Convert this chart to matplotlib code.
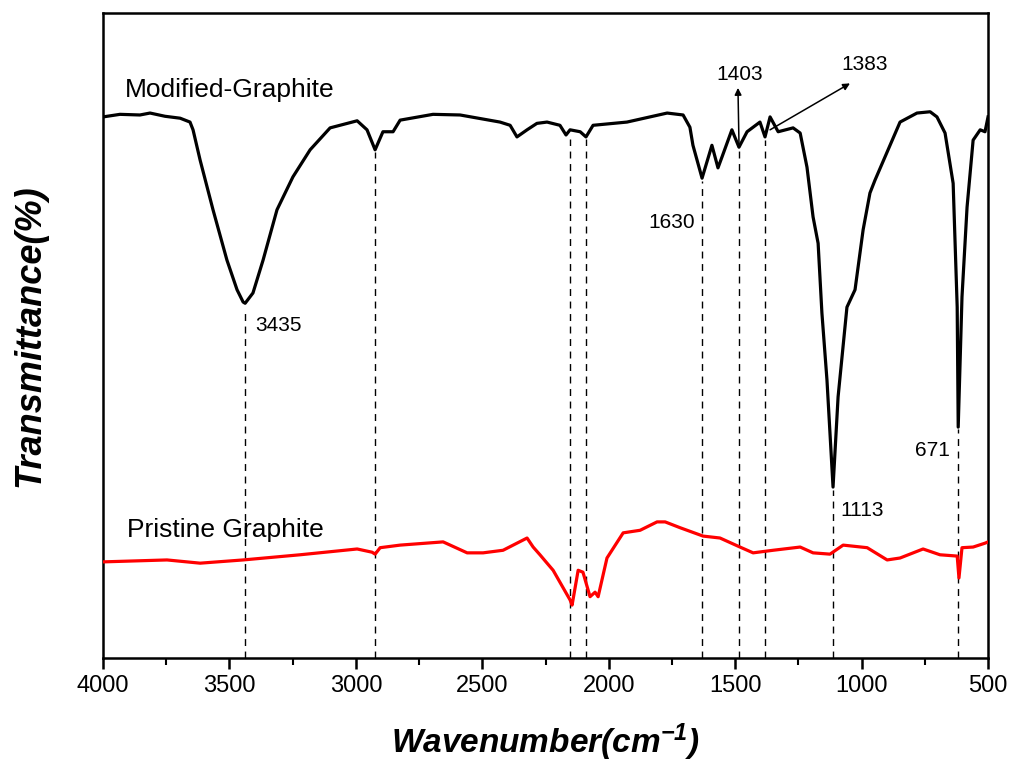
import matplotlib
matplotlib.use("Agg")
import matplotlib.pyplot as plt
from matplotlib.ticker import MultipleLocator

plt.rcParams["font.family"] = ["Liberation Sans", "DejaVu Sans"]
plt.rcParams["mathtext.fontset"] = "custom"
plt.rcParams["mathtext.it"] = "Liberation Sans:italic:bold"
plt.rcParams["mathtext.rm"] = "Liberation Sans:italic:bold"
plt.rcParams["mathtext.default"] = "it"

# ── Modified graphite spectrum (wavenumber, transmittance) ──
mod_wn = [4000, 3933, 3854, 3814, 3755, 3695, 3656, 3644, 3616, 3565, 3510,
          3470, 3446, 3438, 3407, 3367, 3312, 3249, 3181, 3102, 2995, 2956,
          2924, 2893, 2853, 2825, 2695, 2588, 2430, 2390, 2363, 2323, 2284,
          2244, 2193, 2169, 2153, 2113, 2090, 2062, 1928, 1769, 1706, 1679,
          1667, 1631, 1592, 1568, 1552, 1513, 1485, 1453, 1402, 1382, 1362,
          1330, 1271, 1243, 1216, 1192, 1172, 1157, 1137, 1113, 1093, 1058,
          1026, 994, 967, 947, 848, 781, 729, 702, 670, 638, 622, 618, 603,
          583, 559, 531, 512, 500]
mod_t = [83.9, 84.3, 84.2, 84.5, 84.0, 83.7, 83.1, 81.9, 77.2, 69.5, 61.7,
         57.1, 55.2, 55.0, 56.6, 61.7, 69.5, 74.6, 78.8, 82.2, 83.3, 81.9,
         78.8, 81.6, 81.6, 83.4, 84.3, 84.2, 83.1, 82.6, 80.8, 81.9, 82.9,
         83.1, 82.6, 81.1, 81.9, 81.6, 80.8, 82.6, 83.1, 84.5, 84.2, 82.3,
         79.5, 74.4, 79.5, 76.0, 77.7, 81.9, 79.2, 81.6, 83.1, 80.8, 83.9,
         81.6, 82.2, 81.4, 76.1, 68.4, 64.3, 53.5, 43.1, 26.5, 40.5, 54.4,
         57.1, 66.4, 72.1, 74.1, 83.1, 84.5, 84.7, 83.9, 81.4, 73.6, 54.4,
         35.8, 56.0, 69.9, 80.3, 81.9, 81.6, 83.9]

# ── Pristine graphite spectrum ──
pri_wn = [4000, 3747, 3616, 3446, 3221, 2995, 2936, 2924, 2904, 2825, 2655,
          2560, 2497, 2418, 2323, 2299, 2272, 2244, 2220, 2153, 2145, 2121,
          2102, 2074, 2054, 2042, 2007, 1943, 1876, 1809, 1777, 1718, 1627,
          1560, 1481, 1429, 1350, 1243, 1192, 1125, 1073, 978, 899, 848, 757,
          690, 622, 615, 603, 559, 512, 500]
pri_t = [14.9, 15.2, 14.7, 15.2, 16.0, 16.9, 16.4, 16.1, 17.1, 17.5, 18.0,
         16.3, 16.3, 16.7, 18.6, 17.2, 16.0, 14.7, 13.6, 9.0, 8.2, 13.6,
         13.3, 9.5, 10.2, 9.5, 15.5, 19.4, 19.8, 21.1, 21.1, 20.2, 18.9,
         18.6, 17.2, 16.3, 16.7, 17.2, 16.3, 16.1, 17.5, 17.1, 15.2, 15.5,
         16.9, 16.0, 15.8, 12.4, 17.1, 17.2, 17.8, 18.0]

# ── marked bands: position and top of the dashed guide ──
band_wn = [3438, 2924, 2153, 2090, 1631, 1485, 1382, 1113, 618]
band_top = [54.3, 78.5, 80.4, 80.4, 74.0, 78.8, 80.3, 26.0, 35.5]

fig, ax = plt.subplots(figsize=(10.14, 7.70), dpi=100)
fig.subplots_adjust(left=0.1016, right=0.9744, top=0.983, bottom=0.1455)

for w, top in zip(band_wn, band_top):
    ax.plot([w, w], [0, top], color="black", lw=1.0, ls=(0, (5, 4)), zorder=1)

ax.plot(mod_wn, mod_t, color="black", lw=2.3, zorder=3)
ax.plot(pri_wn, pri_t, color="#ff0000", lw=2.3, zorder=3)

ax.text(3913, 88.1, "Modified-Graphite", fontsize=19, va="center", ha="left")
ax.text(3905, 19.8, "Pristine Graphite", fontsize=19, va="center", ha="left")

lab = dict(fontsize=15, va="center")
ax.text(3399, 51.6, "3435", ha="left", **lab)
ax.text(1659, 67.6, "1630", ha="right", **lab)
ax.text(1481, 90.4, "1403", ha="center", **lab)
ax.text(990, 92.1, "1383", ha="center", **lab)
ax.text(1085, 22.9, "1113", ha="left", **lab)
ax.text(650, 32.2, "671", ha="right", **lab)

arrow = dict(arrowstyle="-|>", color="black", lw=1.1, mutation_scale=10,
             shrinkA=0, shrinkB=0)
ax.annotate("", xy=(1489, 88.4), xytext=(1485, 79.8), arrowprops=arrow)
ax.annotate("", xy=(1046, 89.1), xytext=(1362, 81.9), arrowprops=arrow)

ax.set_xlim(4000, 500)
ax.set_ylim(0, 100)
ax.xaxis.set_major_locator(MultipleLocator(500))
ax.xaxis.set_minor_locator(MultipleLocator(250))
ax.set_yticks([])
ax.tick_params(axis="x", which="major", direction="out", length=8, width=1.8,
               labelsize=17, pad=4)
ax.tick_params(axis="x", which="minor", direction="out", length=5, width=1.5)
for s in ax.spines.values():
    s.set_linewidth(1.8)

ax.set_xlabel("Wavenumber(cm$^{-1}$)", fontsize=24, fontweight="bold",
              fontstyle="italic", labelpad=18)
ax.set_ylabel("Transmittance(%)", fontsize=26, fontweight="bold",
              fontstyle="italic", labelpad=40)

fig.savefig("out.png", dpi=100)
plt.close(fig)
